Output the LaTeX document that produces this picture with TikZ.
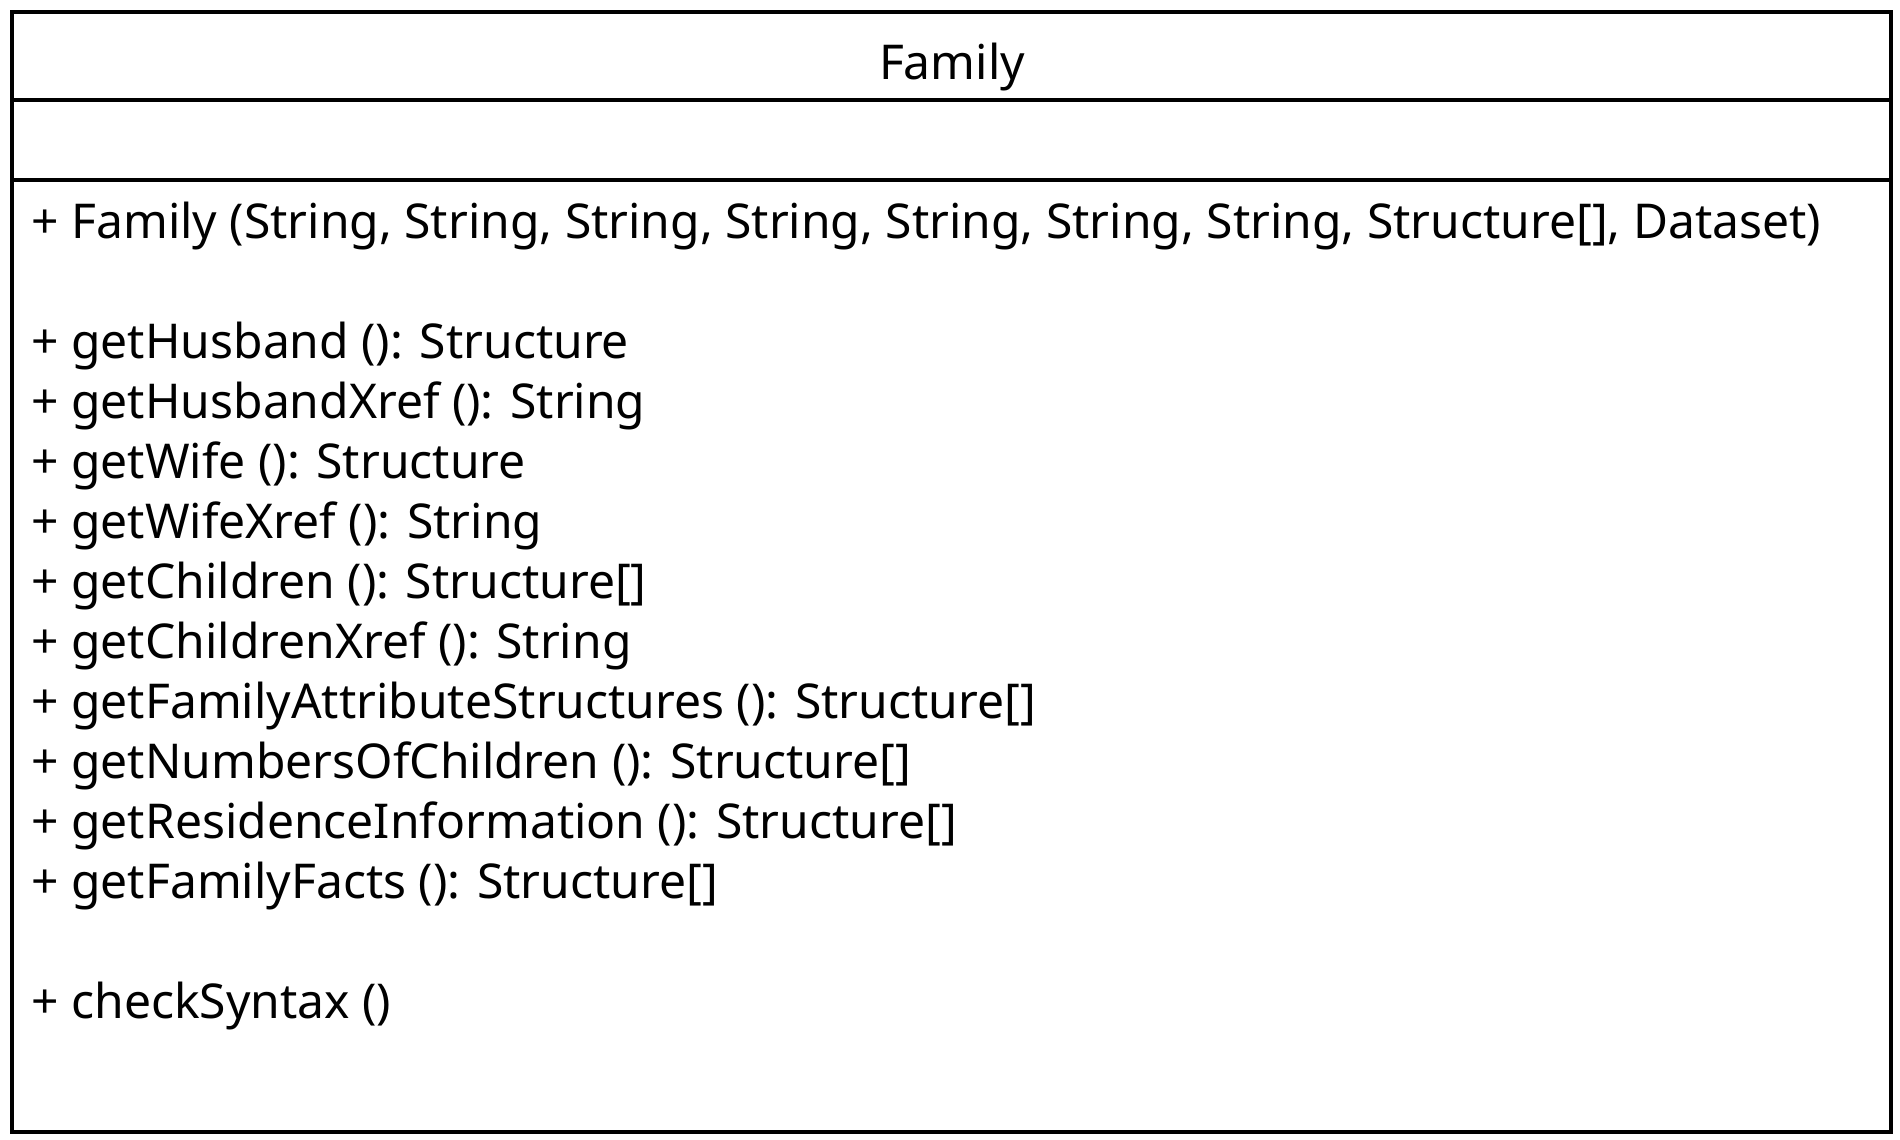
\documentclass[tikz,border=0pt]{standalone}
\usepackage{fontspec}
\setmainfont{Noto Sans}
\begin{document}
\begin{tikzpicture}[x=0.5pt,y=-0.5pt,
  frame/.style={draw=black,line width=2pt,inner sep=0pt,minimum width=939.25pt,minimum height=559.75pt},
  divider/.style={draw=black,line width=2pt},
  umltext/.style={inner sep=0pt,anchor=base west,font=\fontsize{24pt}{30pt}\selectfont},
  umltitle/.style={inner sep=0pt,anchor=base,font=\fontsize{24pt}{30pt}\selectfont}]
\useasboundingbox (0,0) rectangle (1900,1140);
\node[frame] (box) at (951.25,571.75) {};
\coordinate (d1) at (0,99.5);
\coordinate (d2) at (0,180);
\draw[divider] (box.west |- d1) -- (box.east |- d1);
\draw[divider] (box.west |- d2) -- (box.east |- d2);
\node[umltitle] (title) at (952,79) {Family};
\node[umltext] (l1) at (31,238) {+ Family (String, String, String, String, String, String, String, Structure[], Dataset)};
\node[umltext] (l2) at (31,358) {+ getHusband (): Structure};
\node[umltext] (l3) at (31,418) {+ getHusbandXref (): String};
\node[umltext] (l4) at (31,478) {+ getWife (): Structure};
\node[umltext] (l5) at (31,538) {+ getWifeXref (): String};
\node[umltext] (l6) at (31,598) {+ getChildren (): Structure[]};
\node[umltext] (l7) at (31,658) {+ getChildrenXref (): String};
\node[umltext] (l8) at (31,718) {+ getFamilyAttributeStructures (): Structure[]};
\node[umltext] (l9) at (31,778) {+ getNumbersOfChildren (): Structure[]};
\node[umltext] (l10) at (31,838) {+ getResidenceInformation (): Structure[]};
\node[umltext] (l11) at (31,898) {+ getFamilyFacts (): Structure[]};
\node[umltext] (l12) at (31,1018) {+ checkSyntax ()};
\end{tikzpicture}
\end{document}
